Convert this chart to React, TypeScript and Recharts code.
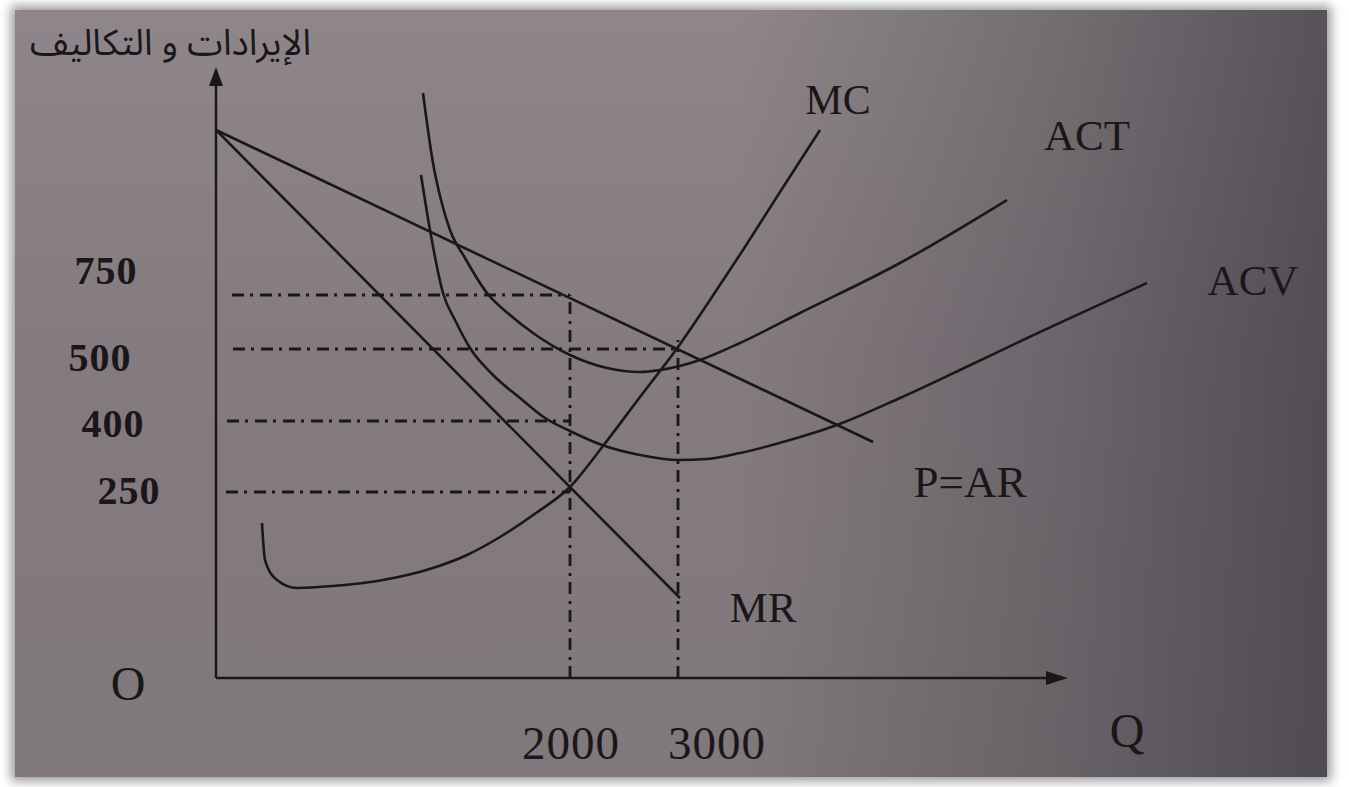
import React from 'react';
import { ComposedChart, Line, XAxis, YAxis, ReferenceLine, ReferenceDot } from 'recharts';

// ---- data (schematic drawing units) ----
const priceAR = [
  { x: 0, y: 54.8 },
  { x: 65.7, y: 23.6 },
];
const marginalRevenue = [
  { x: 0, y: 54.8 },
  { x: 46.4, y: 8.0 },
];
const marginalCost = [
  { x: 4.6, y: 15.5 }, { x: 4.9, y: 11.8 }, { x: 6.1, y: 9.8 }, { x: 8.1, y: 9.0 },
  { x: 11.7, y: 9.2 }, { x: 16.7, y: 9.8 }, { x: 21.7, y: 11.0 }, { x: 25.1, y: 12.3 },
  { x: 28.4, y: 14.1 }, { x: 32.0, y: 16.5 }, { x: 35.4, y: 19.1 }, { x: 38.7, y: 23.2 },
  { x: 42.4, y: 28.1 }, { x: 46.2, y: 33.1 }, { x: 49.4, y: 37.8 }, { x: 52.7, y: 42.8 },
  { x: 56.4, y: 48.6 }, { x: 60.4, y: 54.8 },
];
const averageTotalCost = [
  { x: 20.7, y: 58.5 }, { x: 21.7, y: 51.5 }, { x: 22.5, y: 47.8 }, { x: 23.4, y: 44.8 },
  { x: 24.9, y: 42.0 }, { x: 27.1, y: 38.5 }, { x: 29.4, y: 36.3 }, { x: 31.7, y: 34.5 },
  { x: 35.4, y: 32.3 }, { x: 39.1, y: 31.0 }, { x: 42.4, y: 30.6 }, { x: 44.4, y: 30.8 },
  { x: 48.4, y: 31.8 }, { x: 52.4, y: 33.5 }, { x: 58.4, y: 36.5 }, { x: 68.4, y: 41.5 },
  { x: 79.1, y: 47.8 },
];
const averageVariableCost = [
  { x: 20.5, y: 50.3 }, { x: 21.4, y: 44.8 }, { x: 22.7, y: 38.5 }, { x: 24.0, y: 35.6 },
  { x: 25.4, y: 33.0 }, { x: 27.7, y: 30.3 }, { x: 30.4, y: 28.0 }, { x: 32.9, y: 26.0 },
  { x: 35.4, y: 24.7 }, { x: 38.6, y: 23.3 }, { x: 42.4, y: 22.3 }, { x: 46.2, y: 21.8 },
  { x: 49.1, y: 21.9 }, { x: 52.4, y: 22.5 }, { x: 57.4, y: 23.8 }, { x: 62.1, y: 25.3 },
  { x: 68.4, y: 28.0 }, { x: 74.4, y: 30.8 }, { x: 80.7, y: 33.8 }, { x: 93.1, y: 39.5 },
];

const yTickValues = [38.3, 32.9, 25.7, 18.6];
const yTickLabels = ['750', '500', '400', '250'];
const xTickValues = [35.4, 46.2];
const xTickLabels = ['2000', '3000'];

const guideSegments = [
  [{ x: 1.6, y: 38.3 }, { x: 35.4, y: 38.3 }],
  [{ x: 1.7, y: 32.9 }, { x: 46.2, y: 32.9 }],
  [{ x: 1.1, y: 25.7 }, { x: 35.4, y: 25.7 }],
  [{ x: 1.0, y: 18.6 }, { x: 35.4, y: 18.6 }],
  [{ x: 35.4, y: 0 }, { x: 35.4, y: 38.3 }],
  [{ x: 46.2, y: 0 }, { x: 46.2, y: 33.8 }],
];

const curveLabels = [
  { text: 'MC', x: 62.2, y: 57.8 },
  { text: 'ACT', x: 87.1, y: 54.3 },
  { text: 'ACV', x: 103.7, y: 39.8 },
  { text: 'P=AR', x: 75.4, y: 19.6 },
  { text: 'MR', x: 54.7, y: 7.1 },
  { text: 'O', x: -8.8, y: -0.5 },
  { text: 'Q', x: 91.1, y: -5.2 },
];

const yAxisTitle = 'الإيرادات و التكاليف';

// ---- styles ----
const INK = '#1b1719';
const SERIF = '"Liberation Serif", "Times New Roman", serif';
const yLabelShift = [
  { dx: -102, dy: -25 },
  { dx: -108, dy: 8 },
  { dx: -95, dy: 2 },
  { dx: -79, dy: -2 },
];
const xLabelShift = [
  { dx: 1, dy: 57 },
  { dx: 39, dy: 57 },
];
const labelSize: Record<string, number> = { MC: 42, ACT: 43, ACV: 43, 'P=AR': 45, MR: 43, O: 48, Q: 48 };

const YTick = (props: any) => {
  const { x, y, index } = props;
  const s = yLabelShift[index] || { dx: 0, dy: 0 };
  return (
    <text x={x + s.dx} y={y + s.dy} textAnchor="middle" dominantBaseline="central"
      fontFamily={SERIF} fontWeight={700} fontSize={40} fill={INK} letterSpacing={1}>
      {yTickLabels[index]}
    </text>
  );
};

const XTick = (props: any) => {
  const { x, y, index } = props;
  const s = xLabelShift[index] || { dx: 0, dy: 0 };
  return (
    <text x={x + s.dx} y={y + s.dy} textAnchor="middle" dominantBaseline="central"
      fontFamily={SERIF} fontSize={47} fill={INK} letterSpacing={1}>
      {xTickLabels[index]}
    </text>
  );
};

const dashStyle = { stroke: INK, strokeWidth: 2.8, strokeDasharray: '12 6 3 7' };

export default function App() {
  return (
    <div style={{ position: 'absolute', left: 0, top: 0, width: 1349, height: 787, background: '#ffffff', overflow: 'hidden' }}>
      <div
        style={{
          position: 'absolute', left: 15, top: 10, width: 1312, height: 767,
          background:
            'linear-gradient(90deg, rgba(0,0,0,0) 0%, rgba(0,0,0,0) 55%, rgba(20,20,28,0.22) 80%, rgba(20,20,28,0.45) 100%), linear-gradient(180deg, #8e868a 0%, #847b80 45%, #7f787c 100%)',
          boxShadow: '0 0 10px 4px rgba(70,66,72,0.55)',
        }}
      />
      <div
        style={{
          position: 'absolute', right: 1349 - 311, top: 20, whiteSpace: 'nowrap', direction: 'rtl',
          fontFamily: '"Noto Sans Arabic", "DejaVu Sans", serif', fontSize: 36, color: INK, lineHeight: '48px',
        }}
      >
        {yAxisTitle}
      </div>
      <div style={{ position: 'absolute', left: 0, top: 0 }}>
        <ComposedChart width={1349} height={787} margin={{ top: 58, right: 33, bottom: 69, left: 156 }}>
          <XAxis type="number" dataKey="x" domain={[0, 110]} allowDataOverflow height={40}
            axisLine={false} tickLine={false} ticks={xTickValues} interval={0} tick={<XTick />} />
          <YAxis type="number" dataKey="y" domain={[0, 62]} allowDataOverflow width={60}
            axisLine={false} tickLine={false} ticks={yTickValues} interval={0} tick={<YTick />} />

          {guideSegments.map((seg, i) => (
            <ReferenceLine key={'g' + i} segment={seg} {...dashStyle} ifOverflow="visible" />
          ))}

          <ReferenceLine segment={[{ x: 0, y: 0 }, { x: 0, y: 60.5 }]} stroke={INK} strokeWidth={2.4} ifOverflow="visible" />
          <ReferenceLine segment={[{ x: 0, y: 0 }, { x: 84, y: 0 }]} stroke={INK} strokeWidth={2.4} ifOverflow="visible" />
          <ReferenceDot x={0} y={61.1} r={0} ifOverflow="visible"
            shape={(p: any) => (
              <path d={`M${p.cx},${p.cy} L${p.cx - 7},${p.cy + 19} L${p.cx + 7},${p.cy + 19} Z`} fill={INK} />
            )} />
          <ReferenceDot x={85.2} y={0} r={0} ifOverflow="visible"
            shape={(p: any) => (
              <path d={`M${p.cx},${p.cy} L${p.cx - 22},${p.cy - 7} L${p.cx - 22},${p.cy + 7} Z`} fill={INK} />
            )} />

          <Line data={priceAR} dataKey="y" type="linear" stroke={INK} strokeWidth={2.6} dot={false} isAnimationActive={false} />
          <Line data={marginalRevenue} dataKey="y" type="linear" stroke={INK} strokeWidth={2.6} dot={false} isAnimationActive={false} />
          <Line data={marginalCost} dataKey="y" type="monotone" stroke={INK} strokeWidth={2.6} dot={false} isAnimationActive={false} />
          <Line data={averageTotalCost} dataKey="y" type="monotone" stroke={INK} strokeWidth={2.6} dot={false} isAnimationActive={false} />
          <Line data={averageVariableCost} dataKey="y" type="monotone" stroke={INK} strokeWidth={2.6} dot={false} isAnimationActive={false} />

          {curveLabels.map((l) => (
            <ReferenceDot key={l.text} x={l.x} y={l.y} r={0} ifOverflow="visible"
              shape={(p: any) => (
                <text x={p.cx} y={p.cy} textAnchor="middle" dominantBaseline="central"
                  fontFamily={SERIF} fontSize={labelSize[l.text]} fill={INK}>
                  {l.text}
                </text>
              )} />
          ))}
        </ComposedChart>
      </div>
    </div>
  );
}
